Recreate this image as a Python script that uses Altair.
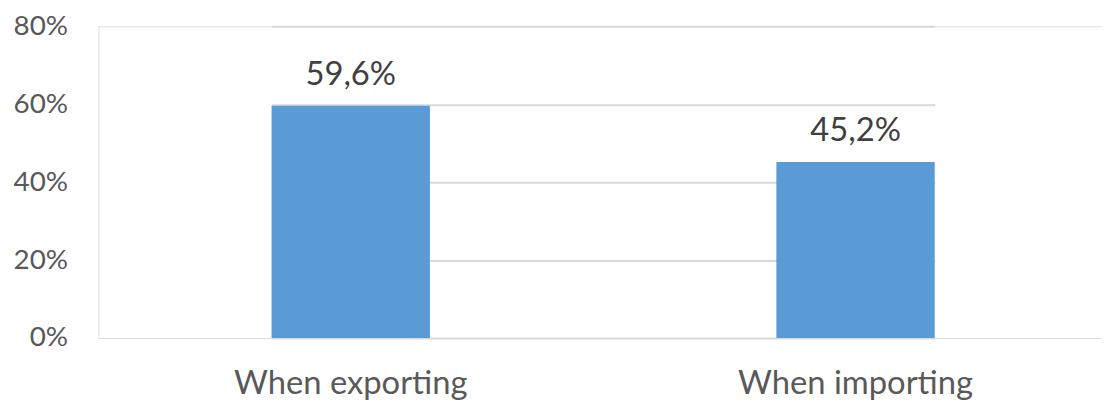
import altair as alt
import pandas as pd

categories = ["When exporting", "When importing"]
values = [0.596, 0.452]

df = pd.DataFrame({"category": categories, "value": values})

FONT = "Lato"

base = alt.Chart(df).encode(
    x=alt.X(
        "category:N",
        sort=categories,
        scale=alt.Scale(paddingInner=0.6863, paddingOuter=0, range=[174.5, 842.5]),
        axis=alt.Axis(
            title=None,
            labelAngle=0,
            domain=False,
            ticks=False,
            tickSize=0,
            grid=False,
            labelFont=FONT,
            labelFontSize=33,
            labelColor="#595959",
            labelBaseline="alphabetic",
            labelPadding=56,
            labelLimit=0,
        ),
    ),
    y=alt.Y(
        "value:Q",
        scale=alt.Scale(domain=[0, 0.8], nice=False),
        axis=alt.Axis(
            title=None,
            values=[0, 0.2, 0.4, 0.6, 0.8],
            format=".0%",
            domain=False,
            ticks=False,
            tickSize=0,
            grid=True,
            gridColor="#D9D9D9",
            gridWidth=2,
            labelFont=FONT,
            labelFontSize=28,
            labelColor="#595959",
            labelPadding=31,
        ),
    ),
)

bars = base.mark_bar(color="#5B9BD5")

labels = base.mark_text(
    font=FONT,
    fontSize=33,
    color="#404040",
    baseline="alphabetic",
    dy=-21,
).transform_calculate(
    label="replace(format(datum.value, '.1%'), '.', ',')"
).encode(text="label:N")

chart = (
    alt.layer(bars, labels)
    .properties(
        width=1010,
        height=314,
        autosize=alt.AutoSizeParams(type="none"),
        padding={"left": 91, "top": 17, "right": 0, "bottom": 66},
    )
    .configure_view(strokeWidth=0, stroke="transparent")
    .configure_axis(domain=False)
    .configure(background="white")
)

chart.save("out.html", embed_options={"renderer": "svg", "actions": False})
